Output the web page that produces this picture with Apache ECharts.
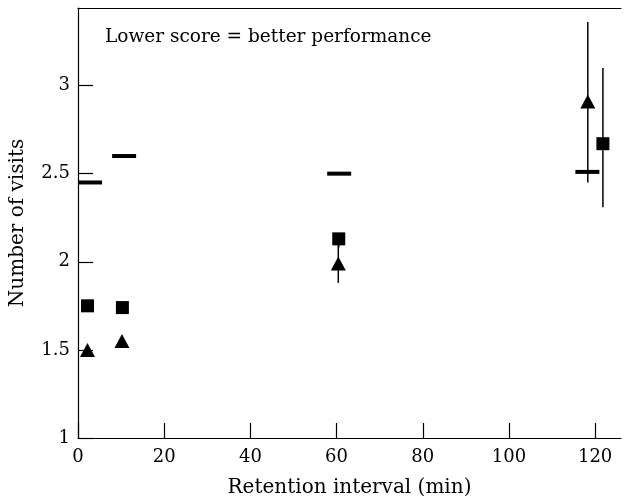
<!DOCTYPE html>
<html>
<head>
<meta charset="utf-8">
<script src="https://cdn.jsdelivr.net/npm/echarts@6/dist/echarts.min.js"></script>
<style>
  html, body { margin: 0; padding: 0; background: #fff; }
  #chart { width: 624px; height: 502px; }
</style>
</head>
<body>
<div id="chart"></div>
<script>
// values
const xTicks = [0, 20, 40, 60, 80, 100, 120];
const yTicks = [1, 1.5, 2, 2.5, 3];

// horizontal bars (chance level)
const dashX = [2.8, 10.7, 60.6, 118.2];
const dashY = [2.45, 2.6, 2.5, 2.51];

// squares
const squareX = [2.2, 10.3, 60.5, 121.8];
const squareY = [1.75, 1.74, 2.13, 2.67];
const squareLow = [null, null, 2.08, 2.31];
const squareHigh = [null, null, 2.13, 3.1];

// triangles
const triX = [2.2, 10.2, 60.4, 118.3];
const triY = [1.5, 1.55, 1.99, 2.91];
const triLow = [null, null, 1.88, 2.45];
const triHigh = [null, null, 2.1, 3.36];

const font = 'DejaVu Serif';
const ink = '#000';

function pairs(xs, ys) {
  return xs.map((x, i) => [x, ys[i]]);
}

function errRows(xs, lo, hi) {
  const rows = [];
  xs.forEach((x, i) => {
    if (lo[i] != null) rows.push([x, lo[i], hi[i]]);
  });
  return rows;
}

function renderErr(params, api) {
  const a = api.coord([api.value(0), api.value(1)]);
  const b = api.coord([api.value(0), api.value(2)]);
  return {
    type: 'line',
    shape: { x1: a[0], y1: a[1], x2: b[0], y2: b[1] },
    style: { stroke: ink, lineWidth: 1.5 },
  };
}

const chart = echarts.init(document.getElementById('chart'), null, { renderer: 'canvas' });

chart.setOption({
  animation: false,
  backgroundColor: '#fff',
  title: {
    text: 'Lower score = better performance',
    left: 100,
    top: 23,
    textStyle: { fontFamily: font, fontSize: 18.5, fontWeight: 'normal', color: ink },
  },
  grid: { left: 78, right: 3, top: 8, bottom: 64, outerBoundsMode: 'none', containLabel: false },
  xAxis: [
    {
      type: 'value',
      min: 0,
      max: 126,
      name: 'Retention interval (min)',
      nameLocation: 'middle',
      nameGap: 40,
      nameTextStyle: { fontFamily: font, fontSize: 20, color: ink },
      axisLine: { show: true, lineStyle: { color: ink, width: 1.2 } },
      axisTick: { show: true, inside: true, length: 15, lineStyle: { color: ink, width: 1.2 }, customValues: xTicks },
      axisLabel: { fontFamily: font, fontSize: 18, color: ink, margin: 10, customValues: xTicks },
      splitLine: { show: false },
    },
    {
      type: 'value',
      position: 'top',
      min: 0,
      max: 126,
      axisLine: { show: true, lineStyle: { color: ink, width: 1.2 } },
      axisTick: { show: false },
      axisLabel: { show: false },
      splitLine: { show: false },
    },
  ],
  yAxis: {
    type: 'value',
    min: 1,
    max: 3.44,
    interval: 0.5,
    name: 'Number of visits',
    nameLocation: 'middle',
    nameGap: 50,
    nameTextStyle: { fontFamily: font, fontSize: 20, color: ink },
    axisLine: { show: true, lineStyle: { color: ink, width: 1.2 } },
    axisTick: { show: true, inside: true, length: 15, lineStyle: { color: ink, width: 1.2 }, customValues: yTicks },
    axisLabel: { fontFamily: font, fontSize: 18, color: ink, margin: 8, customValues: yTicks },
    splitLine: { show: false },
  },
  series: [
    {
      type: 'custom',
      renderItem: renderErr,
      data: errRows(triX, triLow, triHigh),
      z: 1,
    },
    {
      type: 'custom',
      renderItem: renderErr,
      data: errRows(squareX, squareLow, squareHigh),
      z: 1,
    },
    {
      type: 'scatter',
      symbol: 'rect',
      symbolSize: [24, 4],
      itemStyle: { color: ink, opacity: 1 },
      data: pairs(dashX, dashY),
      z: 3,
    },
    {
      type: 'scatter',
      symbol: 'rect',
      symbolSize: 13,
      itemStyle: { color: ink, opacity: 1 },
      data: pairs(squareX, squareY),
      z: 3,
    },
    {
      type: 'scatter',
      symbol: 'triangle',
      symbolSize: [15, 14],
      itemStyle: { color: ink, opacity: 1 },
      data: pairs(triX, triY),
      z: 3,
    },
  ],
});
</script>
</body>
</html>
